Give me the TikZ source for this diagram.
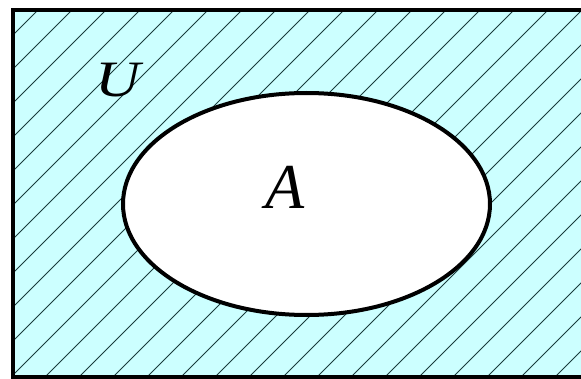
\documentclass[tikz,border=0pt]{standalone}
\usepackage{fontspec}
\setmainfont{Liberation Serif}
\usetikzlibrary{shapes.geometric}
\definecolor{bgcyan}{RGB}{204,255,255}
\definecolor{hatchcol}{RGB}{25,60,60}
\begin{document}
\begin{tikzpicture}[x=1pt,y=1pt,
  hatchline/.style={draw=hatchcol,line width=1pt},
  border/.style={draw=black,line width=4pt},
  setlabel/.style={inner sep=0pt}]
\useasboundingbox (0,0) rectangle (581,378);
\coordinate (ll) at (12.5,1.5);
\coordinate (ur) at (600,368);
\fill[bgcyan] (ll) rectangle (ur);
\begin{scope}
  \clip (ll) rectangle (ur);
  \foreach \k in {-12,...,18} {
    \pgfmathsetmacro{\hoff}{10+34*\k}
    \draw[hatchline] (\hoff-20,-20) -- (\hoff+420,420);
  }
\end{scope}
\node[ellipse,border,fill=white,minimum width=367pt,minimum height=222pt,inner sep=0pt] (setA) at (306.5,174) {};
\draw[border] (ll) rectangle (ur);
\node[setlabel,font=\itshape\fontsize{51}{51}\selectfont] (U) at (117.5,298) {\scalebox{1.22}[1]{U}};
\node[setlabel,font=\itshape\fontsize{64}{64}\selectfont] (A) at (285.5,190.5) {A};
\end{tikzpicture}
\end{document}
